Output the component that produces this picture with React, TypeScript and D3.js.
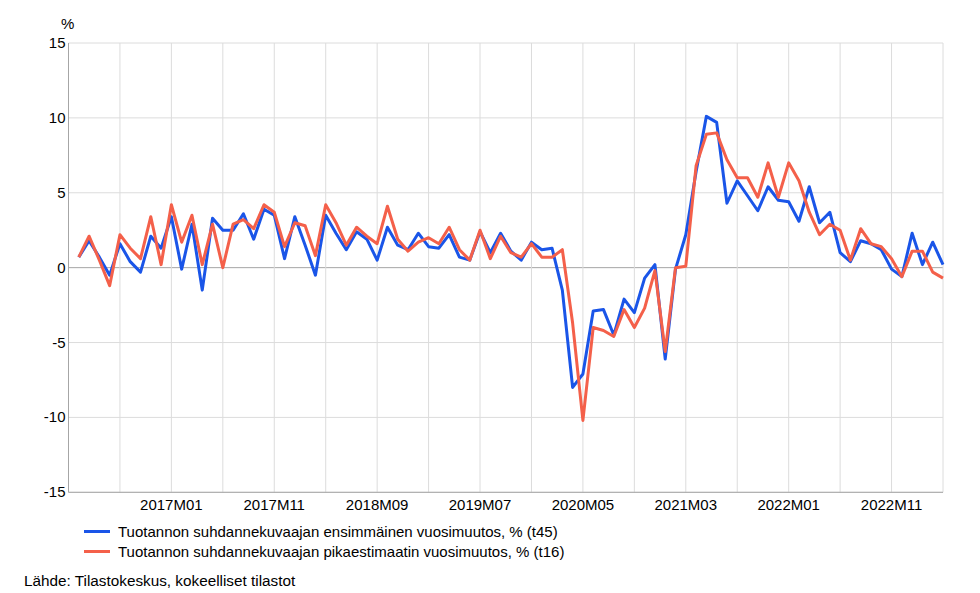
import React from "react";
import * as d3 from "d3";

const START_YEAR = 2016;
const START_MONTH = 4;

const seriesNames = [
  "Tuotannon suhdannekuvaajan ensimmäinen vuosimuutos, % (t45)",
  "Tuotannon suhdannekuvaajan pikaestimaatin vuosimuutos, % (t16)",
];

const t45 = [
  0.7, 1.8, 0.7, -0.5, 1.6, 0.4, -0.3, 2.1, 1.3, 3.4,
  -0.1, 2.9, -1.5, 3.3, 2.5, 2.5, 3.6, 1.9, 3.9, 3.5,
  0.6, 3.4, 1.5, -0.5, 3.5, 2.3, 1.2, 2.4, 1.9, 0.5,
  2.7, 1.5, 1.2, 2.3, 1.4, 1.3, 2.2, 0.7, 0.5, 2.4,
  1.0, 2.3, 1.1, 0.5, 1.7, 1.2, 1.3, -1.5, -8.0, -7.1,
  -2.9, -2.8, -4.5, -2.1, -3.0, -0.7, 0.2, -6.1, -0.1, 2.2,
  6.4, 10.1, 9.7, 4.3, 5.8, 4.8, 3.8, 5.4, 4.5, 4.4,
  3.1, 5.4, 3.0, 3.7, 1.0, 0.4, 1.8, 1.6, 1.2, -0.1,
  -0.6, 2.3, 0.2, 1.7, 0.2,
];

const t16 = [
  0.7, 2.1, 0.5, -1.2, 2.2, 1.3, 0.6, 3.4, 0.2, 4.2,
  1.7, 3.5, 0.2, 2.9, 0.0, 2.9, 3.2, 2.6, 4.2, 3.7,
  1.4, 3.0, 2.8, 0.8, 4.2, 3.0, 1.5, 2.7, 2.1, 1.6,
  4.1, 1.9, 1.1, 1.7, 2.0, 1.6, 2.7, 1.2, 0.5, 2.5,
  0.6, 2.1, 1.0, 0.7, 1.6, 0.7, 0.7, 1.2, -3.7, -10.2,
  -4.0, -4.2, -4.6, -2.8, -4.0, -2.7, -0.2, -5.6, 0.0, 0.1,
  6.8, 8.9, 9.0, 7.2, 6.0, 6.0, 4.7, 7.0, 4.7, 7.0,
  5.8, 3.7, 2.2, 2.9, 2.5, 0.5, 2.6, 1.6, 1.4, 0.6,
  -0.6, 1.1, 1.1, -0.3, -0.7,
];

const months: string[] = t45.map((_, i) => {
  const m0 = START_MONTH - 1 + i;
  const y = START_YEAR + Math.floor(m0 / 12);
  const m = (m0 % 12) + 1;
  return `${y}M${m < 10 ? "0" + m : m}`;
});

const xTickLabels = ["2017M01", "2017M11", "2018M09", "2019M07", "2020M05", "2021M03", "2022M01", "2022M11"];
const yTicks = [-15, -10, -5, 0, 5, 10, 15];
const colors = ["#1a55e8", "#f4604a"];

export default function App() {
  const W = 980, H = 593;
  const left = 68.5, right = 943, top = 43, bottom = 492.3;
  const x = d3.scaleLinear().domain([-1, months.length - 1]).range([left, right]);
  const y = d3.scaleLinear().domain([-15, 15]).range([bottom, top]);
  const line = d3.line<number>().x((_, i) => x(i)).y((d) => y(d));
  const vgrid: number[] = [];
  for (let i = -1; i < months.length; i += 5) vgrid.push(i);
  const font = "'Liberation Sans', Arial, sans-serif";
  const series = [t45, t16];

  return (
    <svg width={W} height={H} style={{ position: "absolute", left: 0, top: 0, background: "#fff" }} fontFamily={font}>
      {yTicks.map((t) => (
        <line key={"h" + t} x1={left} x2={right} y1={y(t)} y2={y(t)} stroke={t === 0 ? "#a6a6a6" : "#dcdcdc"} strokeWidth={1} />
      ))}
      {vgrid.map((i) => (
        <line key={"v" + i} x1={x(i)} x2={x(i)} y1={top} y2={bottom} stroke={i === -1 ? "#a6a6a6" : "#dcdcdc"} strokeWidth={1} />
      ))}
      <line x1={left} x2={right} y1={bottom} y2={bottom} stroke="#a6a6a6" strokeWidth={1} />
      {yTicks.map((t) => (
        <text key={"yt" + t} x={65.5} y={y(t) + 5} textAnchor="end" fontSize={15} fill="#000">{t}</text>
      ))}
      <text x={61} y={29} fontSize={15} fill="#000">%</text>
      {xTickLabels.map((lab) => (
        <text key={lab} x={x(months.indexOf(lab))} y={510} textAnchor="middle" fontSize={15} fill="#000">{lab}</text>
      ))}
      {series.map((s, k) => (
        <path key={"s" + k} d={line(s) || ""} fill="none" stroke={colors[k]} strokeWidth={3} strokeLinejoin="round" strokeLinecap="butt" />
      ))}
      {seriesNames.map((n, k) => (
        <g key={"lg" + k} transform={`translate(0, ${531.5 + k * 20})`}>
          <line x1={84} x2={110} y1={0} y2={0} stroke={colors[k]} strokeWidth={3} />
          <text x={118} y={5.5} fontSize={15} fill="#000">{n}</text>
        </g>
      ))}
      <text x={24} y={586} fontSize={15.3} fill="#000">Lähde: Tilastokeskus, kokeelliset tilastot</text>
    </svg>
  );
}
